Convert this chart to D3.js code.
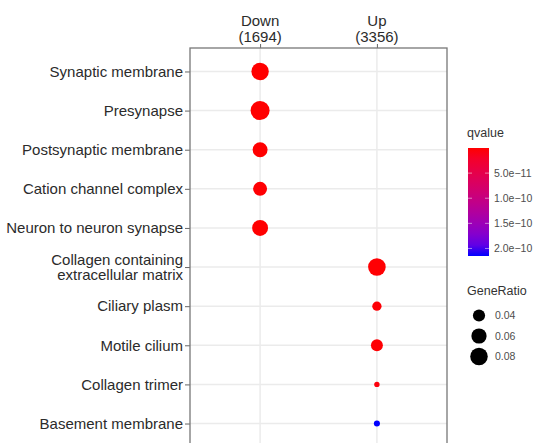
<!DOCTYPE html>
<html>
<head>
<meta charset="utf-8">
<script src="https://cdn.jsdelivr.net/npm/d3@7"></script>
<style>
  html, body { margin: 0; padding: 0; background: #fff; }
  svg { display: block; font-family: "Liberation Sans", Arial, Helvetica, sans-serif; }
</style>
</head>
<body>
<svg id="chart" width="538" height="443"></svg>
<script>
// GO enrichment dot plot (Down / Up clusters)

// ─── Data ─────────────────────────────────────────────────────────────────────
const clusters     = ['Down', 'Up'];
const clusterCount = ['(1694)', '(3356)'];
const terms = [
  'Synaptic membrane', 'Presynapse', 'Postsynaptic membrane', 'Cation channel complex',
  'Neuron to neuron synapse', 'Collagen containing\nextracellular matrix', 'Ciliary plasm',
  'Motile cilium', 'Collagen trimer', 'Basement membrane'
];
const termCluster = ['Down', 'Down', 'Down', 'Down', 'Down', 'Up', 'Up', 'Up', 'Up', 'Up'];
const geneRatio   = [0.079, 0.095, 0.058, 0.051, 0.066, 0.081, 0.028, 0.039, 0.022, 0.0222];
const qvalue      = [2e-14, 1e-15, 5e-13, 1e-12, 3e-13, 1e-12, 2e-12, 1.5e-12, 4e-12, 2.15e-10];
const qTicks      = [5e-11, 1e-10, 1.5e-10, 2e-10];
const qTickLabels = ['5.0e\u221211', '1.0e\u221210', '1.5e\u221210', '2.0e\u221210'];
const sizeBreaks  = [0.04, 0.06, 0.08];

// ─── Layout ───────────────────────────────────────────────────────────────────
const panel = { left: 190, right: 447, top: 48, bottom: 447 };
const svg = d3.select('#chart');

const x = d3.scalePoint().domain(clusters).range([panel.left, panel.right]).padding(0.6);
const y = d3.scalePoint().domain(terms).range([panel.top, panel.bottom]).padding(0.6);

// ggplot-style area scale: min radius + sqrt of rescaled value
const gMin = d3.min(geneRatio), gMax = d3.max(geneRatio);
const rPart = d3.scaleSqrt().domain([0, gMax - gMin]).range([0, 6.8]);
const r = v => 2.7 + rPart(Math.max(0, v - gMin));

const qMin = 0, qMax = d3.max(qvalue);
const color = d3.scaleLinear().domain([qMin, qMax]).range(['#ff0000', '#0000ff'])
  .interpolate(d3.interpolateLab);

// ─── Panel + grid ─────────────────────────────────────────────────────────────
svg.append('g')
  .selectAll('line')
  .data(terms)
  .join('line')
  .attr('x1', panel.left).attr('x2', panel.right)
  .attr('y1', d => y(d)).attr('y2', d => y(d))
  .attr('stroke', '#ebebeb').attr('stroke-width', 1.5);

svg.append('g')
  .selectAll('line')
  .data(clusters)
  .join('line')
  .attr('x1', d => x(d)).attr('x2', d => x(d))
  .attr('y1', panel.top).attr('y2', panel.bottom)
  .attr('stroke', '#ebebeb').attr('stroke-width', 1.5);

// Axes
const yAxis = svg.append('g')
  .attr('transform', `translate(${panel.left},0)`)
  .call(d3.axisLeft(y).tickSize(5).tickPadding(3).tickFormat(''));
yAxis.select('.domain').remove();
yAxis.selectAll('line').attr('stroke', '#666');

const xAxis = svg.append('g')
  .attr('transform', `translate(0,${panel.top})`)
  .call(d3.axisTop(x).tickSize(4).tickFormat(''));
xAxis.select('.domain').remove();
xAxis.selectAll('line').attr('stroke', '#666');

// y labels (multi-line)
const yLab = svg.append('g')
  .selectAll('text')
  .data(terms)
  .join('text')
  .attr('x', panel.left - 7)
  .attr('y', d => y(d))
  .attr('text-anchor', 'end')
  .attr('font-size', 15)
  .attr('fill', '#2b2b2b');
yLab.each(function (d) {
  const lines = d.split('\n');
  const t = d3.select(this);
  lines.forEach((ln, i) => {
    t.append('tspan')
      .attr('x', panel.left - 7)
      .attr('dy', i === 0 ? `${0.35 - (lines.length - 1) * 0.52}em` : '1.04em')
      .text(ln);
  });
});

// x labels on top
svg.append('g')
  .selectAll('text')
  .data(clusters)
  .join('text')
  .attr('x', d => x(d))
  .attr('y', 25.5)
  .attr('text-anchor', 'middle')
  .attr('font-size', 15)
  .attr('fill', '#2b2b2b')
  .text(d => d);
svg.append('g')
  .selectAll('text')
  .data(clusters)
  .join('text')
  .attr('x', d => x(d))
  .attr('y', 41.5)
  .attr('text-anchor', 'middle')
  .attr('font-size', 15)
  .attr('fill', '#2b2b2b')
  .text((d, i) => clusterCount[i]);

// ─── Points ───────────────────────────────────────────────────────────────────
svg.append('g')
  .selectAll('circle')
  .data(terms)
  .join('circle')
  .attr('cx', (d, i) => x(termCluster[i]))
  .attr('cy', d => y(d))
  .attr('r', (d, i) => r(geneRatio[i]))
  .attr('fill', (d, i) => color(qvalue[i]));

// Panel border
svg.append('rect')
  .attr('x', panel.left).attr('y', panel.top)
  .attr('width', panel.right - panel.left).attr('height', panel.bottom - panel.top)
  .attr('fill', 'none').attr('stroke', '#777').attr('stroke-width', 1.3);

// ─── Legend: qvalue colour bar ───────────────────────────────────────────────
const bar = { x: 468, y: 148, w: 21, h: 108 };
const defs = svg.append('defs');
const grad = defs.append('linearGradient')
  .attr('id', 'qgrad').attr('x1', 0).attr('x2', 0).attr('y1', 0).attr('y2', 1);
d3.range(0, 1.0001, 0.1).forEach(t => {
  grad.append('stop').attr('offset', t).attr('stop-color', color(qMin + t * (qMax - qMin)));
});

svg.append('text')
  .attr('x', 467).attr('y', 137)
  .attr('font-size', 12.5).attr('fill', '#333')
  .text('qvalue');

svg.append('rect')
  .attr('x', bar.x).attr('y', bar.y).attr('width', bar.w).attr('height', bar.h)
  .attr('fill', 'url(#qgrad)');

const qy = d3.scaleLinear().domain([qMin, qMax]).range([bar.y, bar.y + bar.h]);
const qTickG = svg.append('g');
qTickG.selectAll('line.l')
  .data(qTicks)
  .join('line')
  .attr('x1', bar.x).attr('x2', bar.x + 4)
  .attr('y1', d => qy(d)).attr('y2', d => qy(d))
  .attr('stroke', 'rgba(255,255,255,0.5)');
qTickG.selectAll('line.r')
  .data(qTicks)
  .join('line')
  .attr('x1', bar.x + bar.w - 4).attr('x2', bar.x + bar.w)
  .attr('y1', d => qy(d)).attr('y2', d => qy(d))
  .attr('stroke', 'rgba(255,255,255,0.5)');
qTickG.selectAll('text')
  .data(qTicks)
  .join('text')
  .attr('x', 494)
  .attr('y', d => qy(d))
  .attr('dy', '0.35em')
  .attr('font-size', 10.5)
  .attr('fill', '#4d4d4d')
  .text((d, i) => qTickLabels[i]);

// ─── Legend: GeneRatio sizes ─────────────────────────────────────────────────
svg.append('text')
  .attr('x', 467).attr('y', 295)
  .attr('font-size', 12.5).attr('fill', '#333')
  .text('GeneRatio');

const sizeY = d3.scalePoint().domain(sizeBreaks).range([315.5, 356.5]);
const sizeG = svg.append('g');
sizeG.selectAll('circle')
  .data(sizeBreaks)
  .join('circle')
  .attr('cx', 479)
  .attr('cy', d => sizeY(d))
  .attr('r', d => r(d))
  .attr('fill', '#000');
sizeG.selectAll('text')
  .data(sizeBreaks)
  .join('text')
  .attr('x', 495)
  .attr('y', d => sizeY(d))
  .attr('dy', '0.35em')
  .attr('font-size', 10.5)
  .attr('fill', '#4d4d4d')
  .text(d => d.toFixed(2));
</script>
</body>
</html>
